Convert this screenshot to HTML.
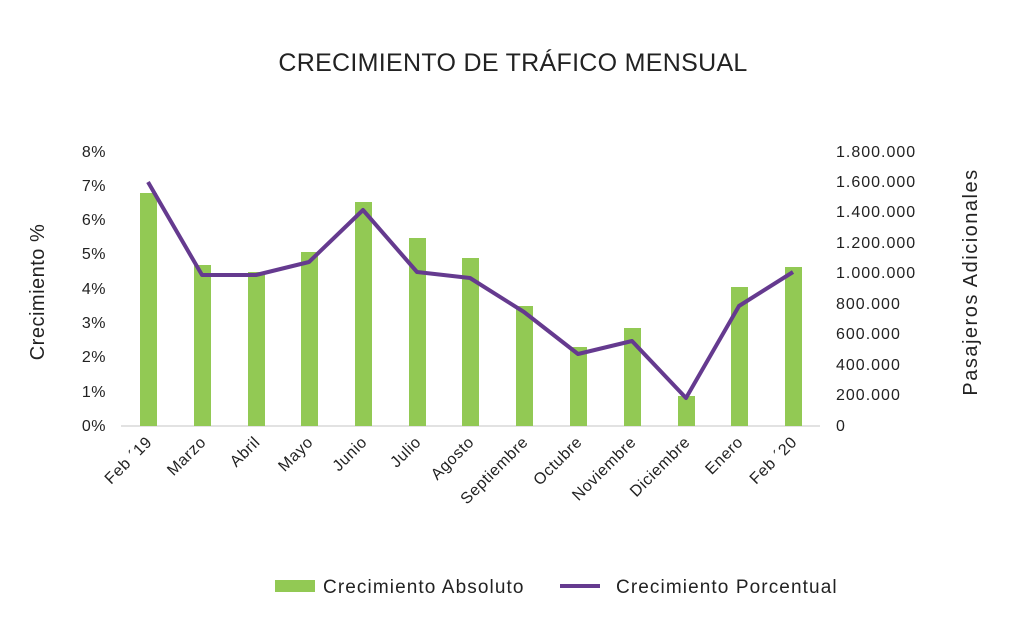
<!DOCTYPE html>
<html><head><style>body{margin:0;background:#fff}svg{display:block}text{font-family:"Liberation Sans",sans-serif;fill:#222}</style></head><body>
<svg width="1024" height="627" viewBox="0 0 1024 627">
<text x="513" y="71" font-size="25" text-anchor="middle" letter-spacing="0.3">CRECIMIENTO DE TRÁFICO MENSUAL</text>
<g font-size="16" text-anchor="end" letter-spacing="0.5">
<text x="106" y="431">0%</text><text x="106" y="397">1%</text><text x="106" y="362">2%</text><text x="106" y="328">3%</text><text x="106" y="294">4%</text><text x="106" y="259">5%</text><text x="106" y="225">6%</text><text x="106" y="191">7%</text><text x="106" y="157">8%</text>
</g>
<g font-size="16" text-anchor="start" letter-spacing="1">
<text x="836" y="431">0</text><text x="836" y="400">200.000</text><text x="836" y="370">400.000</text><text x="836" y="339">600.000</text><text x="836" y="309">800.000</text><text x="836" y="278">1.000.000</text><text x="836" y="248">1.200.000</text><text x="836" y="217">1.400.000</text><text x="836" y="187">1.600.000</text><text x="836" y="157">1.800.000</text>
</g>
<text transform="translate(44,292) rotate(-90)" font-size="20" text-anchor="middle" letter-spacing="0.5">Crecimiento %</text>
<text transform="translate(977,282) rotate(-90)" font-size="20" text-anchor="middle" letter-spacing="1.5">Pasajeros Adicionales</text>
<line x1="121" y1="426" x2="820" y2="426" stroke="#d9d9d9" stroke-width="1.5"/>
<g fill="#92c954">
<rect x="140" y="193" width="17" height="233"/>
<rect x="194" y="265" width="17" height="161"/>
<rect x="248" y="272" width="17" height="154"/>
<rect x="301" y="252" width="17" height="174"/>
<rect x="355" y="202" width="17" height="224"/>
<rect x="409" y="238" width="17" height="188"/>
<rect x="462" y="258" width="17" height="168"/>
<rect x="516" y="306" width="17" height="120"/>
<rect x="570" y="347" width="17" height="79"/>
<rect x="624" y="328" width="17" height="98"/>
<rect x="678" y="396" width="17" height="30"/>
<rect x="731" y="287" width="17" height="139"/>
<rect x="785" y="267" width="17" height="159"/>
</g>
<polyline fill="none" stroke="#653a8f" stroke-width="4" stroke-linejoin="round" points="148,182 202,275 256,275 309,262 363,210 417,272 470,278 524,312 578,354 632,341 686,398 739,306 793,272"/>
<g font-size="16" text-anchor="end" letter-spacing="0.6">
<text transform="translate(153,443) rotate(-45)">Feb ´19</text>
<text transform="translate(207,443) rotate(-45)">Marzo</text>
<text transform="translate(261,443) rotate(-45)">Abril</text>
<text transform="translate(314,443) rotate(-45)">Mayo</text>
<text transform="translate(368,443) rotate(-45)">Junio</text>
<text transform="translate(422,443) rotate(-45)">Julio</text>
<text transform="translate(475,443) rotate(-45)">Agosto</text>
<text transform="translate(529,443) rotate(-45)">Septiembre</text>
<text transform="translate(583,443) rotate(-45)">Octubre</text>
<text transform="translate(637,443) rotate(-45)">Noviembre</text>
<text transform="translate(691,443) rotate(-45)">Diciembre</text>
<text transform="translate(744,443) rotate(-45)">Enero</text>
<text transform="translate(798,443) rotate(-45)">Feb ´20</text>
</g>
<rect x="275" y="580" width="40" height="12" fill="#92c954"/>
<text x="323" y="593" font-size="19" letter-spacing="1.1">Crecimiento Absoluto</text>
<line x1="560" y1="586" x2="600" y2="586" stroke="#653a8f" stroke-width="4"/>
<text x="616" y="593" font-size="19" letter-spacing="1.1">Crecimiento Porcentual</text>
</svg>
</body></html>
